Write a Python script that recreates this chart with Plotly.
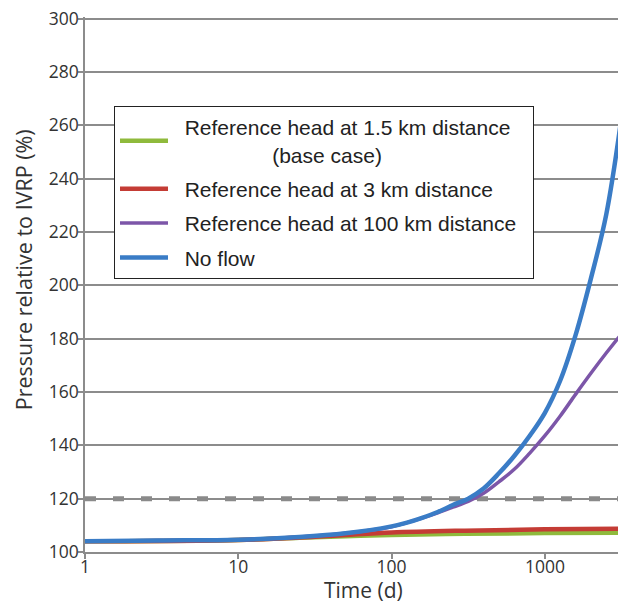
import plotly.graph_objects as go

# ---- data ----
green_t = [1, 10, 25, 50, 100, 300, 1000, 3981]
green_base_case = [104.0, 104.5, 105.3, 105.9, 106.4, 106.8, 107.1, 107.3]

red_t = [1, 10, 25, 50, 100, 300, 1000, 3981]
red_3km = [104.0, 104.5, 105.4, 106.4, 107.3, 108.0, 108.5, 108.8]

curve_t = [1, 3, 10, 25, 50, 100, 126, 158, 200, 251, 316, 398, 501, 631, 794,
           1000, 1259, 1585, 1995, 2512, 3162, 3981]
purple_100km = [104.0, 104.3, 104.6, 105.6, 107.0, 109.5, 111.0, 112.7, 114.7, 116.8, 119.0, 122.0, 126.3, 131.0, 137.0,
                143.6, 151.0, 159.1, 167.0, 174.6, 181.8, 188.5]
blue_no_flow = [104.0, 104.3, 104.6, 105.6, 107.0, 109.6, 111.0, 112.8, 115.0, 117.6, 120.0, 123.8, 129.5, 136.0, 143.5,
                152.2, 164.3, 181.3, 202.5, 226.5, 263.0, 310.0]

threshold = 120

NB = "\u00a0"
series_names = [
    NB * 2 + "Reference head at 1.5 km distance<br>" + NB * 17 + "(base case)",
    NB * 2 + "Reference head at 3 km distance",
    NB * 2 + "Reference head at 100 km distance" + NB * 2,
    NB * 2 + "No flow",
]
series_t = [green_t, red_t, curve_t, curve_t]
series_values = [green_base_case, red_3km, purple_100km, blue_no_flow]
series_colors = ["#8fba3c", "#c43c35", "#7c56a8", "#3a7cc6"]
series_widths = [4.5, 4.5, 3.5, 4.5]

y_ticks = [100, 120, 140, 160, 180, 200, 220, 240, 260, 280, 300]
x_ticks = [1, 10, 100, 1000]
x_tick_labels = ["1", "10", "100", "1000"]

x_title = "Time (d)"
y_title = "Pressure relative to IVRP (%)"

fig = go.Figure()

# dashed threshold line
fig.add_trace(go.Scatter(
    x=[1, curve_t[-1]], y=[threshold, threshold],
    mode="lines", line=dict(color="#8a8a8a", width=5, dash="11px,17px"),
    showlegend=False, hoverinfo="skip",
))

for i, (name, ts, vals, col, w) in enumerate(zip(series_names, series_t, series_values, series_colors, series_widths)):
    fig.add_trace(go.Scatter(
        x=ts, y=vals, mode="lines", name=name,
        line=dict(color=col, width=w, shape="spline", smoothing=1.0),
        legendgroup=f"g{i}",
    ))

grid_col = "#8c8c8c"
text_col = "#333333"
fig.update_layout(
    width=618, height=594,
    margin=dict(l=77, r=0, t=9, b=50),
    paper_bgcolor="white", plot_bgcolor="white",
    font=dict(family="Open Sans", color=text_col),
    legend=dict(
        x=(114 - 85) / 541, y=(551.6 - 106) / 534.6, xanchor="left", yanchor="top",
        bgcolor="white", bordercolor="#222222", borderwidth=1,
        font=dict(family="Liberation Sans, Arial", size=21, color="#222222"),
        tracegroupgap=4, itemwidth=48,
    ),
    xaxis=dict(
        type="log", range=[0, 541 / 153.3],
        tickvals=x_ticks, ticktext=x_tick_labels,
        showgrid=False, showline=True, linecolor=grid_col, linewidth=1.5,
        ticks="outside", ticklen=5, tickcolor=grid_col, tickwidth=1.5,
        ticklabelstandoff=-7, ticklabeloverflow="allow",
        tickfont=dict(size=17.5, color=text_col),
        zeroline=False, automargin=False,
    ),
    yaxis=dict(
        range=[100, 300.6], tickvals=y_ticks,
        showgrid=True, gridcolor=grid_col, gridwidth=1.5,
        showline=True, linecolor=grid_col, linewidth=1.5,
        ticks="outside", ticklen=5, tickcolor=grid_col, tickwidth=1.5,
        ticklabelstandoff=-4, ticklabeloverflow="allow",
        tickfont=dict(size=17.5, color=text_col),
        zeroline=False, automargin=False,
    ),
    annotations=[
        dict(text=x_title, xref="paper", yref="paper", x=(355 - 77) / 541, y=(543.6 - 582) / 534.6,
             xanchor="center", yanchor="middle", showarrow=False,
             font=dict(family="Open Sans", size=21, color=text_col)),
        dict(text=y_title, xref="paper", yref="paper", x=(15 - 77) / 541, y=(543.6 - 262) / 534.6,
             xanchor="center", yanchor="middle", showarrow=False, textangle=-90,
             font=dict(family="Open Sans", size=21.5, color=text_col)),
    ],
)

fig.write_html("out.html")
